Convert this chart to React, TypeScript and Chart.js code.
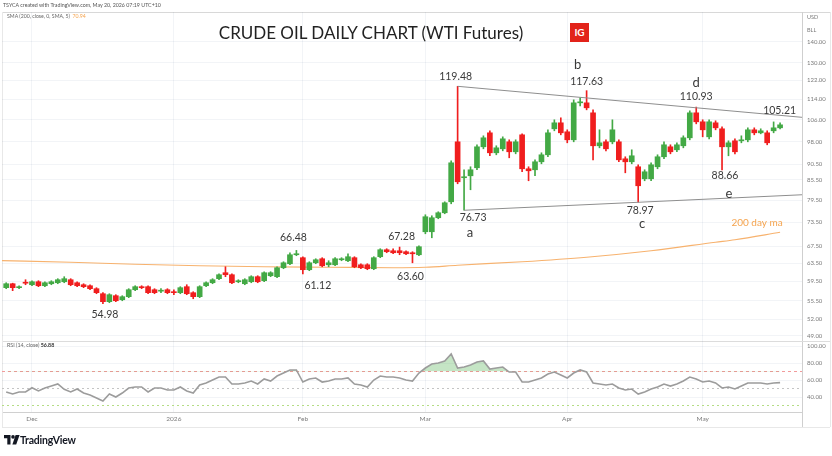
import React, { useEffect, useRef } from "react";
import { Chart, registerables } from "chart.js";

Chart.register(...registerables);

// ---------- data ----------
const monthTickIdx = [4, 26, 46, 65, 87, 108];
const monthTickLabels = ["Dec", "2026", "Feb", "Mar", "Apr", "May"];
const priceTicks = [140, 130, 122, 114, 106, 98, 90.5, 85.5, 79.5, 73.5, 67.5, 63.5, 59.5, 55.5, 52, 49];
const rsiTicks = [100, 80, 60, 40];

const opens = [
  58.19, 59.02, 58.19, 59.23, 58.81, 59.44, 58.6, 59.02, 59.23, 59.44,
  59.87, 59.23, 58.81, 58.6, 57.98, 56.95, 55.35, 56.55, 55.74, 56.35,
  57.77, 58.4, 58.4, 57.77, 57.47, 57.77, 57.36, 57.16, 58.4, 57.16,
  56.35, 58.6, 59.23, 60.09, 61.39, 60.95, 59.44, 59.02, 59.44, 60.52,
  59.66, 60.73, 60.52, 62.49, 63.39, 65.46, 64.77, 62.05, 63.61, 64.53,
  63.16, 63.16, 64.3, 64.07, 64.77, 63.16, 63.16, 62.27, 65.0, 66.64,
  66.4, 66.4, 66.17, 65.93, 65.46, 71.06, 71.06, 74.71, 76.05, 79.09,
  97.99, 86.18, 86.79, 89.31, 96.26, 101.19, 94.22, 95.57, 97.99, 94.56,
  100.47, 88.99, 88.67, 91.24, 93.55, 102.65, 104.87, 101.56, 98.69, 112.63,
  112.63, 108.68, 96.61, 97.99, 97.99, 97.99, 92.22, 91.24, 89.63, 85.87,
  85.87, 89.63, 92.89, 96.26, 95.23, 96.61, 99.4, 108.68, 105.25, 99.75,
  104.87, 102.65, 96.26, 98.34, 98.34, 98.69, 102.28, 101.19, 101.19, 101.92,
  103.01,
];
const highs = [
  59.23, 59.13, 58.6, 59.87, 59.66, 59.66, 59.44, 59.66, 60.09, 60.52,
  60.09, 59.44, 59.02, 58.81, 58.19, 57.16, 56.95, 56.75, 56.55, 57.98,
  58.6, 58.6, 58.6, 57.98, 57.98, 57.98, 57.77, 58.4, 58.81, 57.36,
  58.6, 59.44, 60.09, 61.17, 62.71, 61.17, 59.87, 60.09, 60.73, 60.73,
  61.61, 61.61, 62.71, 63.84, 65.93, 66.48, 65.0, 63.84, 64.53, 64.77,
  64.07, 64.77, 64.77, 65.69, 65.0, 63.39, 63.39, 65.0, 66.88, 66.88,
  66.88, 67.28, 66.4, 66.17, 67.6, 75.51, 75.24, 76.32, 79.09, 91.56,
  119.48, 88.67, 89.63, 96.95, 100.11, 101.92, 96.61, 99.75, 98.69, 98.69,
  100.83, 89.63, 91.89, 94.22, 102.28, 106.0, 106.76, 102.28, 113.84, 114.65,
  117.63, 109.85, 102.28, 98.69, 106.0, 98.69, 92.89, 95.23, 90.27, 88.67,
  90.91, 93.55, 97.99, 96.95, 97.64, 100.11, 109.46, 110.93, 106.0, 106.0,
  105.62, 103.38, 98.34, 99.04, 100.11, 103.01, 103.01, 102.65, 101.92, 105.21,
  104.87,
];
const lows = [
  57.98, 57.57, 57.98, 58.81, 58.6, 58.4, 58.4, 58.81, 59.02, 59.23,
  58.6, 58.4, 58.19, 57.77, 56.95, 54.98, 55.15, 55.35, 55.54, 56.15,
  57.57, 57.98, 56.95, 56.95, 57.16, 56.95, 56.75, 56.95, 56.75, 55.94,
  56.15, 58.4, 59.02, 59.87, 60.52, 59.02, 59.23, 58.81, 59.23, 59.23,
  59.44, 60.52, 60.3, 62.27, 63.16, 65.23, 61.12, 61.83, 63.39, 62.71,
  62.71, 62.94, 64.07, 63.84, 62.49, 62.27, 62.05, 62.05, 64.77, 65.93,
  65.69, 65.46, 65.46, 63.6, 65.23, 70.55, 69.55, 74.44, 75.78, 78.53,
  84.35, 76.73, 82.56, 88.67, 95.57, 93.22, 93.55, 94.89, 92.55, 93.88,
  88.04, 85.26, 86.79, 90.59, 92.89, 101.92, 100.47, 97.64, 97.99, 111.43,
  109.85, 91.89, 95.91, 94.89, 97.29, 91.24, 87.72, 90.59, 78.97, 85.26,
  85.26, 88.99, 92.22, 93.88, 94.56, 95.91, 98.69, 104.49, 99.75, 99.04,
  102.28, 88.66, 93.22, 93.88, 97.64, 97.99, 100.47, 100.83, 96.95, 101.19,
  102.65,
];
const closes = [
  59.02, 58.19, 58.4, 59.13, 59.44, 58.6, 59.23, 59.44, 59.87, 60.09,
  58.81, 58.6, 58.4, 57.98, 57.16, 55.35, 56.75, 55.54, 56.35, 57.77,
  58.4, 58.19, 57.16, 57.16, 57.57, 57.16, 57.16, 58.19, 56.95, 56.35,
  58.4, 59.23, 59.87, 60.95, 60.95, 59.23, 59.66, 59.87, 60.52, 59.44,
  61.39, 61.39, 62.49, 63.61, 65.46, 65.69, 62.05, 63.61, 64.3, 62.94,
  63.61, 64.53, 64.53, 65.0, 62.71, 62.49, 62.27, 64.77, 66.64, 66.17,
  65.93, 65.93, 65.69, 65.69, 67.36, 74.98, 74.71, 76.05, 78.81, 90.91,
  84.95, 86.49, 88.67, 96.26, 99.4, 94.22, 95.91, 99.04, 94.56, 97.99,
  88.99, 88.36, 91.24, 93.55, 101.19, 104.87, 101.19, 98.69, 112.63, 113.03,
  110.64, 96.61, 97.64, 95.57, 102.28, 91.89, 91.24, 93.22, 83.75, 88.04,
  90.27, 92.89, 96.95, 94.56, 96.95, 99.4, 108.68, 105.25, 102.28, 105.25,
  103.01, 96.26, 97.64, 94.56, 98.69, 102.28, 101.19, 101.92, 97.64, 103.01,
  104.12,
];

const rsiVals = [
  45.9, 43.5, 45.9, 45.9, 50.9, 47.1, 50.6, 52.9, 55.3, 49.0,
  45.9, 49.4, 44.7, 42.4, 38.8, 35.3, 43.5, 40.0, 44.7, 50.6,
  51.8, 51.8, 45.9, 50.6, 50.6, 48.2, 48.2, 51.8, 47.1, 44.7,
  54.1, 56.5, 60.0, 63.5, 63.5, 55.3, 55.3, 56.5, 58.8, 55.3,
  61.2, 58.8, 64.7, 68.2, 71.8, 71.8, 57.6, 61.2, 62.4, 57.6,
  58.8, 61.2, 61.2, 62.4, 55.3, 54.1, 51.8, 60.0, 64.7, 63.5,
  63.5, 62.4, 60.0, 58.8, 68.2, 74.1, 78.8, 80.0, 82.4, 90.6,
  74.1, 75.3, 77.6, 81.2, 82.4, 72.9, 74.1, 75.3, 69.4, 69.4,
  57.6, 57.6, 60.0, 62.4, 67.1, 69.4, 65.9, 62.4, 68.2, 71.8,
  69.4, 56.5, 55.3, 54.1, 55.3, 50.6, 48.2, 49.4, 43.5, 45.9,
  49.4, 51.8, 55.3, 52.9, 55.3, 58.8, 63.5, 61.2, 57.6, 58.8,
  56.5, 50.6, 51.8, 49.4, 52.9, 56.5, 56.5, 56.5, 55.3, 56.5,
  56.9,
];

// 200-day moving average, read at a few bars
const maIdx = [-0.65, 10, 20, 30, 40, 50, 60, 65, 70, 80, 90, 100, 110, 113, 120];
const maVals = [64.1, 63.73, 63.27, 62.94, 62.71, 62.6, 62.49, 62.6, 63.05, 63.84, 64.88, 66.4, 68.45, 69.06, 70.94];

// triangle trend lines
const upperLineIdx = [70, 123.4];
const upperLinePrice = [119.48, 106.95];
const lowerLineIdx = [71, 123.4];
const lowerLinePrice = [76.73, 81.1];

// annotations
const annoText = ["119.48", "b", "117.63", "d", "110.93", "105.21", "76.73", "a", "78.97", "c", "88.66", "e", "66.48", "61.12", "67.28", "63.60", "54.98"];
const annoIdx = [70, 90, 90, 107, 107, 119, 71, 71, 98, 98, 111, 111, 45, 46, 61, 63, 15];
const annoPrice = [119.48, 117.63, 117.63, 110.93, 110.93, 105.21, 76.73, 76.73, 78.97, 78.97, 88.66, 88.66, 66.48, 61.12, 67.28, 63.6, 54.98];

// ---------- layout / style ----------
const X_MIN = -0.65;
const X_MAX = 123.4;
const annoDx = [-2, -9, 0, 0, 0, 6, 9, 6, 2, 4, 3, 7, -3, 15, 2, -2, 2];
const annoDy = [-9.5, -26, -9, -24, -10, -11, 7, 23, 8, 22, 6, 24, -12.5, 12, -10, 14, 11];
const GREEN = "#43a945";
const RED = "#f01e1e";
const GRID = "rgba(40,60,120,0.06)";
const AXIS_TXT = "#7b7b7b";
const ORANGE = "#f5a44f";

const annoPlugin = {
  id: "annos",
  afterDatasetsDraw(chart: any) {
    const { ctx, scales } = chart;
    const xs = scales.x;
    const ys = scales.y;
    ctx.save();
    ctx.textAlign = "center";
    ctx.textBaseline = "middle";
    annoText.forEach((t, k) => {
      const px = xs.getPixelForValue(annoIdx[k]) + annoDx[k];
      const py = ys.getPixelForValue(annoPrice[k]) + annoDy[k];
      ctx.font = t.length === 1 ? "13px Lato" : "10.5px Lato";
      ctx.fillStyle = "#3a3a3a";
      ctx.fillText(t, px, py);
    });
    const lx = xs.getPixelForValue(maIdx[maIdx.length - 1]) - 23;
    const ly = ys.getPixelForValue(maVals[maVals.length - 1]) - 9;
    ctx.font = "10px Lato";
    ctx.fillStyle = ORANGE;
    ctx.fillText("200 day ma", lx, ly);
    ctx.restore();
  },
};

function mainConfig(): any {
  const idx = opens.map((_, i) => i);
  const colors = idx.map((i) => (closes[i] >= opens[i] ? GREEN : RED));
  return {
    type: "bar",
    data: {
      datasets: [
        {
          type: "line",
          data: upperLineIdx.map((x, k) => ({ x, y: upperLinePrice[k] })),
          borderColor: "#8e8e8e",
          borderWidth: 1,
          pointRadius: 0,
          order: 0,
        },
        {
          type: "line",
          data: lowerLineIdx.map((x, k) => ({ x, y: lowerLinePrice[k] })),
          borderColor: "#8e8e8e",
          borderWidth: 1,
          pointRadius: 0,
          order: 0,
        },
        {
          type: "bar",
          data: idx.map((i) => ({ x: i, y: [Math.min(opens[i], closes[i]), Math.max(opens[i], closes[i])] })),
          backgroundColor: colors,
          borderWidth: 0,
          barThickness: 5,
          minBarLength: 1,
          grouped: false,
          order: 1,
        },
        {
          type: "bar",
          data: idx.map((i) => ({ x: i, y: [lows[i], highs[i]] })),
          backgroundColor: colors,
          borderWidth: 0,
          barThickness: 1,
          grouped: false,
          order: 2,
        },
        {
          type: "line",
          data: maIdx.map((x, k) => ({ x, y: maVals[k] })),
          borderColor: "#f7b26e",
          borderWidth: 1.2,
          pointRadius: 0,
          cubicInterpolationMode: "monotone",
          order: 3,
        },
      ],
    },
    options: {
      responsive: false,
      animation: false,
      devicePixelRatio: 1,
      events: [],
      layout: { padding: { left: 2, top: 12, right: 0, bottom: 115 } },
      plugins: { legend: { display: false }, tooltip: { enabled: false } },
      scales: {
        x: {
          type: "linear",
          min: X_MIN,
          max: X_MAX,
          offset: false,
          afterBuildTicks: (s: any) => {
            s.ticks = monthTickIdx.map((v) => ({ value: v }));
          },
          ticks: { display: false },
          grid: { color: GRID, drawTicks: false, offset: false },
          border: { display: false },
          afterFit: (s: any) => {
            s.height = 0;
          },
        },
        y: {
          type: "logarithmic",
          position: "right",
          min: 48.1,
          max: 155.8,
          afterBuildTicks: (s: any) => {
            s.ticks = priceTicks.map((v) => ({ value: v }));
          },
          ticks: {
            autoSkip: false,
            padding: 5,
            color: AXIS_TXT,
            font: { family: "Lato", size: 6 },
            callback: (v: any) => Number(v).toFixed(2),
          },
          grid: { color: GRID, drawTicks: false },
          border: { display: false },
          afterFit: (s: any) => {
            s.width = 30;
          },
        },
      },
    },
    plugins: [annoPlugin],
  };
}

function rsiConfig(): any {
  const idx = rsiVals.map((_, i) => i);
  const level = (v: number, color: string, dash: number[]) => ({
    data: [
      { x: X_MIN, y: v },
      { x: X_MAX, y: v },
    ],
    borderColor: color,
    borderWidth: 1,
    borderDash: dash,
    pointRadius: 0,
    fill: false,
  });
  return {
    type: "line",
    data: {
      datasets: [
        {
          data: idx.map((i) => ({ x: i, y: rsiVals[i] })),
          borderColor: "#9c9c9c",
          borderWidth: 1.6,
          pointRadius: 0,
          fill: { target: { value: 70 }, above: "rgba(90,180,90,0.35)", below: "rgba(0,0,0,0)" },
        },
        level(70, "#f29b9b", [3, 3]),
        level(50, "#c4c4c4", [2, 3]),
        level(30, "#b5dd84", [2, 3]),
      ],
    },
    options: {
      responsive: false,
      animation: false,
      devicePixelRatio: 1,
      events: [],
      layout: { padding: { left: 2, top: 341, right: 0, bottom: 29 } },
      plugins: { legend: { display: false }, tooltip: { enabled: false } },
      scales: {
        x: {
          type: "linear",
          min: X_MIN,
          max: X_MAX,
          offset: false,
          afterBuildTicks: (s: any) => {
            s.ticks = monthTickIdx.map((v) => ({ value: v }));
          },
          ticks: {
            autoSkip: false,
            maxRotation: 0,
            padding: 3,
            color: AXIS_TXT,
            font: { family: "Lato", size: 6.5 },
            callback: (_v: any, i: number) => monthTickLabels[i],
          },
          grid: { color: GRID, drawTicks: false },
          border: { display: false },
          afterFit: (s: any) => {
            s.height = 15;
          },
        },
        y: {
          type: "linear",
          position: "right",
          min: 22.35,
          max: 105.9,
          afterBuildTicks: (s: any) => {
            s.ticks = rsiTicks.map((v) => ({ value: v }));
          },
          ticks: {
            autoSkip: false,
            padding: 5,
            color: AXIS_TXT,
            font: { family: "Lato", size: 6 },
            callback: (v: any) => Number(v).toFixed(2),
          },
          grid: { color: GRID, drawTicks: false },
          border: { display: false },
          afterFit: (s: any) => {
            s.width = 30;
          },
        },
      },
    },
  };
}

const ln = (l: number, t: number, w: number, h: number, c: string, k: string) => (
  <div key={k} style={{ position: "absolute", left: l, top: t, width: w, height: h, background: c }} />
);

const txt = (x: number, y: number, content: any, style: any, k: string) => (
  <div
    key={k}
    style={{
      position: "absolute",
      left: x,
      top: y,
      transform: "translateY(-50%)",
      whiteSpace: "nowrap",
      lineHeight: 1,
      fontFamily: "Lato, sans-serif",
      ...style,
    }}
  >
    {content}
  </div>
);

export default function App() {
  const mainRef = useRef<HTMLCanvasElement>(null);
  const rsiRef = useRef<HTMLCanvasElement>(null);

  useEffect(() => {
    document.body.style.margin = "0";
    const main = new Chart(mainRef.current as HTMLCanvasElement, mainConfig());
    const rsi = new Chart(rsiRef.current as HTMLCanvasElement, rsiConfig());
    return () => {
      main.destroy();
      rsi.destroy();
    };
  }, []);

  return (
    <div
      style={{
        position: "absolute",
        left: 0,
        top: 0,
        width: 832,
        height: 456,
        background: "#ffffff",
        overflow: "hidden",
        fontFamily: "Lato, sans-serif",
      }}
    >
      {ln(2, 12, 828, 1, "#d8d8d8", "l1")}
      {ln(802, 12, 1, 415, "#cfcfcf", "l2")}
      {ln(2, 341, 828, 1, "#dcdcdc", "l3")}
      {ln(2, 412, 800, 1, "#d0d0d0", "l4")}
      {ln(2, 427, 828, 1, "#e8e8e8", "l5")}
      {ln(2, 12, 1, 415, "#e8e8e8", "l6")}
      {ln(830, 12, 1, 415, "#e8e8e8", "l7")}
      <canvas ref={mainRef} width={832} height={456} style={{ position: "absolute", left: 0, top: 0 }} />
      <canvas ref={rsiRef} width={832} height={456} style={{ position: "absolute", left: 0, top: 0 }} />

      {txt(3, 6, "TSYCA created with TradingView.com, May 20, 2026 07:19 UTC+10", { fontSize: 5.3, color: "#555" }, "hdr")}
      {txt(
        7,
        17,
        <span>
          SMA (200, close, 0, SMA, 5)&nbsp;&nbsp;<span style={{ color: ORANGE }}>70.94</span>
        </span>,
        { fontSize: 5.2, color: "#666" },
        "leg"
      )}
      {txt(
        7,
        346,
        <span>
          RSI (14, close)&nbsp;<b style={{ color: "#333" }}>56.88</b>
        </span>,
        { fontSize: 5.3, color: "#666" },
        "rsileg"
      )}
      {txt(807, 18, "USD", { fontSize: 5.5, color: AXIS_TXT }, "usd")}
      {txt(807, 31, "BLL", { fontSize: 5.5, color: AXIS_TXT }, "bll")}

      <div
        style={{
          position: "absolute",
          left: 371,
          top: 32,
          transform: "translate(-50%,-50%)",
          whiteSpace: "nowrap",
          fontSize: 17,
          lineHeight: 1,
          color: "#222",
          fontFamily: "Lato, sans-serif",
        }}
      >
        CRUDE OIL DAILY CHART (WTI Futures)
      </div>
      <div
        style={{
          position: "absolute",
          left: 570,
          top: 23,
          width: 19,
          height: 19,
          background: "#e2231a",
          color: "#fff",
          fontWeight: 700,
          fontSize: 10,
          lineHeight: "19px",
          textAlign: "center",
          fontFamily: "Lato, sans-serif",
        }}
      >
        IG
      </div>

      <svg style={{ position: "absolute", left: 4, top: 435 }} width={16} height={10} viewBox="0 0 16 10">
        <path d="M0 0 H6.5 V9.5 H3.3 V3.2 H0 Z" fill="#131722" />
        <circle cx="9" cy="1.9" r="1.8" fill="#131722" />
        <path d="M11.6 0 H15.6 L12.2 9.5 H8.4 Z" fill="#131722" />
      </svg>
      {txt(20, 440, "TradingView", { fontSize: 10.5, fontWeight: 700, color: "#131722", letterSpacing: -0.2 }, "tv")}
    </div>
  );
}
